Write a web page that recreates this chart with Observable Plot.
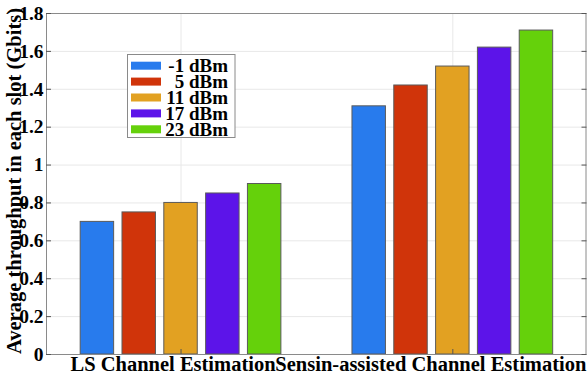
<!DOCTYPE html>
<html>
<head>
<meta charset="utf-8">
<script src="https://cdn.jsdelivr.net/npm/d3@7"></script>
<script src="https://cdn.jsdelivr.net/npm/@observablehq/plot@0.6"></script>
<style>
  html, body { margin: 0; padding: 0; background: #fff; }
  #chart { position: relative; width: 587px; height: 376px; }
  #chart svg text { font-family: "Liberation Serif", "Times New Roman", Times, "DejaVu Serif", serif !important; font-weight: bold; }
</style>
</head>
<body>
<div id="chart"></div>
<script>
const categories = ["LS Channel Estimation", "Sensin-assisted Channel Estimation"];
const series = ["-1 dBm", "5 dBm", "11 dBm", "17 dBm", "23 dBm"];
const lsValues = [0.70, 0.75, 0.80, 0.85, 0.90];
const sensingValues = [1.31, 1.42, 1.52, 1.62, 1.71];
const colors = ["#287BED", "#D0340A", "#E2A122", "#5C14E9", "#65D10B"];
const yTicks = [0, 0.2, 0.4, 0.6, 0.8, 1, 1.2, 1.4, 1.6, 1.8];
const yTickLabels = ["0", "0.2", "0.4", "0.6", "0.8", "1", "1.2", "1.4", "1.6", "1.8"];
const yLabel = "Average throughput in each slot (Gbits)";

// MATLAB-style grouped bar geometry (group width 5/6.5, bar width 0.8 of slot)
const slot = (series.length / (series.length + 1.5)) / series.length;
const barW = slot * 0.8;
const groupValues = [lsValues, sensingValues];
const rows = [];
groupValues.forEach((vals, gi) => {
  vals.forEach((v, si) => {
    const c = gi + 1 + (si - (series.length - 1) / 2) * slot;
    rows.push({group: gi + 1, series: series[si], value: v, x1: c - barW / 2, x2: c + barW / 2});
  });
});

const font = "Liberation Serif";
const xLabelStyle = {anchor: "bottom", tickSize: 0, tickPadding: 2, tickFormat: d => categories[d - 1], label: null, fontSize: 20.5, fill: "#000"};

const chart = Plot.plot({
  width: 587,
  height: 376,
  marginLeft: 46,
  marginRight: 1.5,
  marginTop: 13,
  marginBottom: 22,
  style: {fontFamily: font, fontWeight: "bold", color: "#000", background: "#fff", overflow: "visible"},
  x: {domain: [0.505, 2.49], axis: null},
  y: {domain: [0, 1.8], axis: null},
  color: {domain: series, range: colors},
  marks: [
    Plot.gridY(yTicks, {stroke: "#e8e8e8", strokeOpacity: 1}),
    Plot.gridX([1, 2], {stroke: "#e8e8e8", strokeOpacity: 1}),
    Plot.rectY(rows, {x1: "x1", x2: "x2", y1: 0, y2: "value", fill: "series", stroke: "#5a5a5a", strokeWidth: 1}),
    Plot.frame({stroke: "#8a8a8a"}),
    Plot.axisY(yTicks, {anchor: "left", tickSize: -5, tickFormat: () => "", label: null, stroke: "#555"}),
    Plot.axisY(yTicks, {anchor: "right", tickSize: -5, tickFormat: () => "", label: null, stroke: "#555"}),
    Plot.axisX([1, 2], {anchor: "bottom", tickSize: -5, tickFormat: () => "", label: null, stroke: "#555"}),
    Plot.axisY(yTicks, {anchor: "left", tickSize: 0, tickPadding: 3, tickFormat: d => yTickLabels[yTicks.indexOf(d)], label: null, fontSize: 19.5, fill: "#000"}),
    Plot.axisX([1], {...xLabelStyle, dx: -8}),
    Plot.axisX([2], {...xLabelStyle, dx: -22}),
    Plot.text([yLabel], {frameAnchor: "left", rotate: -90, dx: -32, dy: -3, text: d => d, fontSize: 20.5, fill: "#000", textAnchor: "middle", lineAnchor: "middle"})
  ]
});

document.getElementById("chart").appendChild(chart);

// Legend (inside the plot area, top-left)
const svg = d3.select(chart);
const lg = svg.append("g").attr("class", "legend");
lg.append("rect")
  .attr("x", 127.5).attr("y", 54.5).attr("width", 107.5).attr("height", 83)
  .attr("fill", "#fff").attr("stroke", "#8a8a8a").attr("stroke-width", 1);
series.forEach((s, i) => {
  const cy = 65.7 + i * 15.9;
  lg.append("rect")
    .attr("x", 131).attr("y", cy - 4).attr("width", 30).attr("height", 8)
    .attr("fill", colors[i]);
  lg.append("text")
    .attr("x", 228).attr("y", cy).attr("dy", "0.35em")
    .attr("text-anchor", "end")
    .attr("font-size", 19)
    .attr("fill", "#000")
    .text(s);
});
</script>
</body>
</html>
